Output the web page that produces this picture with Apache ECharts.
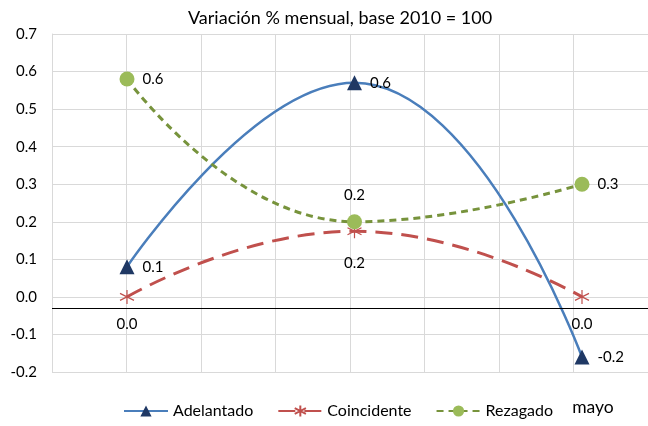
<!DOCTYPE html>
<html><head><meta charset="utf-8">
<script src="https://cdn.jsdelivr.net/npm/echarts@6/dist/echarts.min.js"></script>
<style>html,body{margin:0;padding:0;background:#fff}#c{width:648px;height:426px}</style>
</head><body><div id="c"></div>
<script>
const titleText = 'Variación % mensual, base 2010 = 100';
const categories = ['', '', 'mayo'];
const seriesNames = ['Adelantado', 'Coincidente', 'Rezagado'];
const adelantado = [0.08, 0.57, -0.16];
const coincidente = [0.0, 0.175, 0.0];
const rezagado = [0.58, 0.2, 0.3];
const axisCrossValue = -0.032;

const FONT = 'Lato';
const fmt = p => Number(p.value).toFixed(1);
const asterisk = 'path://M5,0L5,10M0.67,2.5L9.33,7.5M0.67,7.5L9.33,2.5';

const chart = echarts.init(document.getElementById('c'), null, {renderer: 'canvas'});
const yCommon = {type: 'value', min: -0.2, max: 0.7, interval: 0.1};

const coinData = coincidente.map((v, i) => ({value: v, label: {distance: i === 1 ? 17 : 12}}));
const rezData = rezagado.map((v, i) => ({value: v, label: {position: i === 1 ? 'top' : 'right', distance: i === 1 ? 12 : 8}}));

chart.setOption({
  animation: false,
  textStyle: {fontFamily: FONT},
  title: {text: titleText, left: 183, top: 4,
    textStyle: {fontFamily: FONT, fontSize: 18, fontWeight: 'normal', color: '#000'}},
  legend: {data: seriesNames, bottom: 2, left: 118, itemWidth: 44, itemHeight: 14, itemGap: 24,
    textStyle: {fontFamily: FONT, fontSize: 16, color: '#000'}},
  grid: [
    {left: 52, right: 0, top: 34, bottom: 54},
    {left: 127, right: 66, top: 34, bottom: 54}
  ],
  xAxis: [
    {type: 'value', gridIndex: 0, min: 0, max: 8, interval: 1,
     axisLine: {show: false}, axisTick: {show: false}, axisLabel: {show: false},
     splitLine: {show: true, lineStyle: {color: '#d9d9d9', width: 1}}},
    {type: 'category', gridIndex: 1, data: categories, boundaryGap: false,
     axisLine: {show: false}, axisTick: {show: false}, splitLine: {show: false},
     axisLabel: {interval: 0, margin: 26, fontSize: 17.5, color: '#000', fontFamily: FONT, padding: [0, 0, 0, 22]}}
  ],
  yAxis: [
    Object.assign({gridIndex: 0,
     axisLine: {show: true, lineStyle: {color: '#d9d9d9'}}, axisTick: {show: false},
     axisLabel: {formatter: v => v.toFixed(1), fontSize: 15, color: '#000', margin: 15, fontFamily: FONT},
     splitLine: {show: true, lineStyle: {color: '#d9d9d9', width: 1}}}, yCommon),
    Object.assign({gridIndex: 1, show: false, splitLine: {show: false}}, yCommon)
  ],
  series: [
    {name: '_axis', type: 'line', xAxisIndex: 0, yAxisIndex: 0, data: [], silent: true,
     markLine: {silent: true, symbol: ['none', 'none'], label: {show: false},
       lineStyle: {color: '#000', width: 1, type: 'solid'}, data: [{yAxis: axisCrossValue}]}},
    {name: seriesNames[0], type: 'line', xAxisIndex: 1, yAxisIndex: 1, data: adelantado, smooth: 0.5,
     symbol: 'triangle', symbolSize: 15,
     itemStyle: {color: '#1f3864'}, lineStyle: {color: '#4a7ebb', width: 2.5},
     label: {show: true, position: 'right', distance: 8, formatter: fmt, fontSize: 15, color: '#000', fontFamily: FONT}},
    {name: seriesNames[1], type: 'line', xAxisIndex: 1, yAxisIndex: 1, data: coinData, smooth: 0.5,
     symbol: asterisk, symbolSize: 14,
     itemStyle: {color: '#c0504d', borderColor: '#c0504d', borderWidth: 1.2},
     lineStyle: {color: '#c0504d', width: 3, type: [17, 9]},
     label: {show: true, position: 'bottom', formatter: fmt, fontSize: 15, color: '#000', fontFamily: FONT}},
    {name: seriesNames[2], type: 'line', xAxisIndex: 1, yAxisIndex: 1, data: rezData, smooth: 0.5,
     symbol: 'circle', symbolSize: 15,
     itemStyle: {color: '#9bbb59'}, lineStyle: {color: '#77933c', width: 3, type: [7, 5]},
     label: {show: true, formatter: fmt, fontSize: 15, color: '#000', fontFamily: FONT}}
  ]
});
</script></body></html>
